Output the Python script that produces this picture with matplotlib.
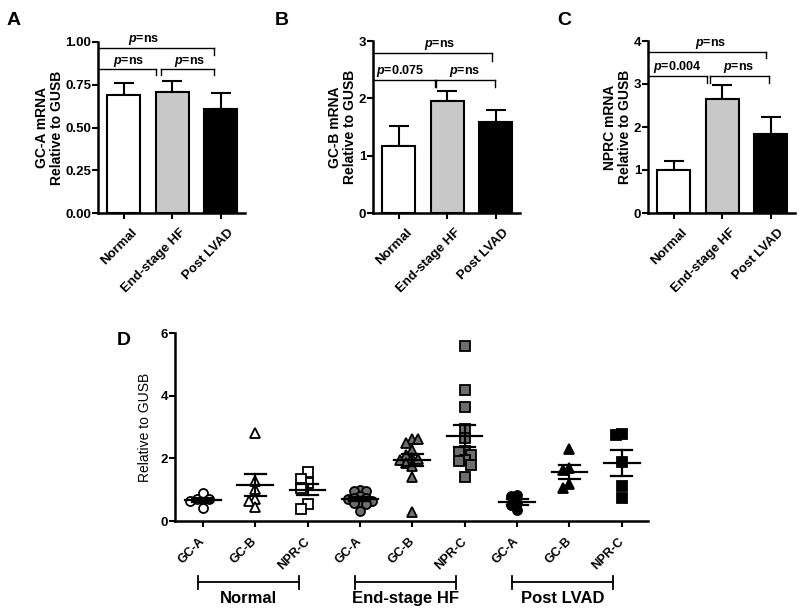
import matplotlib
matplotlib.use("Agg")
import matplotlib.pyplot as plt
import matplotlib.transforms as mtransforms
import numpy as np

plt.rcParams['font.family'] = ['Liberation Sans', 'DejaVu Sans']
plt.rcParams['font.weight'] = 'bold'
plt.rcParams['mathtext.fontset'] = 'custom'
plt.rcParams['mathtext.it'] = 'Liberation Sans:italic:bold'
plt.rcParams['mathtext.rm'] = 'Liberation Sans:bold'

# bar panels A-C
groups = ["Normal", "End-stage HF", "Post LVAD"]
gca_mean = [0.69, 0.71, 0.61]
gca_sem = [0.07, 0.06, 0.09]
gcb_mean = [1.16, 1.96, 1.59]
gcb_sem = [0.35, 0.17, 0.20]
nprc_mean = [1.01, 2.65, 1.84]
nprc_sem = [0.19, 0.33, 0.40]

# panel D, individual samples
normal_gca = [0.69, 0.69, 0.90, 0.69, 0.64, 0.40]
normal_gcb = [2.80, 1.28, 1.02, 0.70, 0.64, 0.46]
normal_nprc = [1.55, 1.20, 1.34, 1.04, 0.53, 0.37]
hf_gca = [1.00, 0.97, 0.96, 0.80, 0.75, 0.72, 0.70, 0.63, 0.60, 0.57, 0.54, 0.31]
hf_gcb = [2.61, 2.50, 2.61, 2.27, 2.11, 2.00, 1.97, 1.95, 1.86, 1.76, 1.41, 0.30]
hf_nprc = [5.60, 4.18, 3.65, 2.93, 2.66, 2.23, 2.21, 2.11, 1.95, 1.90, 1.79, 1.41]
lvad_gca = [0.83, 0.80, 0.56, 0.51, 0.35]
lvad_gcb = [2.29, 1.70, 1.63, 1.17, 1.04]
lvad_nprc = [2.77, 2.74, 1.87, 1.13, 0.74]
receptors = ["GC-A", "GC-B", "NPR-C"]

W, H = 800, 611
fig = plt.figure(figsize=(W / 100, H / 100), dpi=100)


def px_axes(x0, y_top, x1, y_bot):
    return fig.add_axes([x0 / W, 1 - y_bot / H, (x1 - x0) / W, (y_bot - y_top) / H])


def style_axes(ax, size):
    ax.spines['top'].set_visible(False)
    ax.spines['right'].set_visible(False)
    ax.spines['left'].set_linewidth(1.8)
    ax.spines['bottom'].set_linewidth(1.8)
    ax.tick_params(width=1.5, length=4, labelsize=size)
    ax.tick_params(axis='y', pad=1)
    for lab in ax.get_yticklabels():
        lab.set_fontweight('bold')


def shift_xlabels(ax, dx, dy):
    off = mtransforms.ScaledTranslation(dx / 100, dy / 100, fig.dpi_scale_trans)
    for lab in ax.get_xticklabels():
        lab.set_transform(lab.get_transform() + off)


def bracket(ax, x1, x2, y, drop, label, tx):
    xl = ax.get_xlim()[0]
    xs = [x1, x2] if x1 > xl else [xl, x2]
    ax.plot(xs, [y, y], color='black', lw=1, clip_on=False)
    ax.plot([x2, x2], [y, y - drop], color='black', lw=1, clip_on=False)
    if x1 > xl:
        ax.plot([x1, x1], [y, y - drop], color='black', lw=1, clip_on=False)
    ax.annotate(label, (tx, y), xytext=(0, 0.5), textcoords='offset points',
                ha='center', va='bottom', fontsize=9)


def bar_panel(ax, means, sems, ylim, yticks, ylabel, fmt, brackets):
    x = np.arange(len(groups))
    ax.bar(x, means, width=0.68, color=['white', '#c8c8c8', 'black'],
           edgecolor='black', linewidth=1.5, zorder=2)
    ax.errorbar(x, means, yerr=[np.zeros(len(sems)), sems], fmt='none',
                ecolor='black', elinewidth=1.5, capsize=7.5, capthick=1.5, zorder=1)
    ax.set_xlim(-0.53, 2.5)
    ax.set_ylim(*ylim)
    ax.set_yticks(yticks)
    ax.set_yticklabels([fmt.format(v) for v in yticks])
    ax.set_xticks(x)
    ax.set_xticklabels(groups, rotation=45, ha='right', va='top',
                       rotation_mode='anchor', fontweight='bold', fontsize=9.5)
    ax.set_ylabel(ylabel, fontsize=10, fontweight='bold', labelpad=1,
                  linespacing=1.1)
    style_axes(ax, 9.5)
    shift_xlabels(ax, 7, -3)
    for b in brackets:
        bracket(ax, *b)


axA = px_axes(98, 42, 245, 213)
bar_panel(axA, gca_mean, gca_sem, (0, 1.0), [0, 0.25, 0.5, 0.75, 1.0],
          "GC-A mRNA\nRelative to GUSB", "{:.2f}",
          [(-1, 1.86, 0.965, 0.04, "$p$=ns", 0.42),
           (-1, 0.66, 0.84, 0.035, "$p$=ns", 0.1),
           (0.76, 1.86, 0.84, 0.035, "$p$=ns", 1.36)])

axB = px_axes(373, 41, 520, 213)
bar_panel(axB, gcb_mean, gcb_sem, (0, 3), [0, 1, 2, 3],
          "GC-B mRNA\nRelative to GUSB", "{:d}",
          [(-1, 1.92, 2.79, 0.14, "$p$=ns", 0.84),
           (-1, 0.74, 2.32, 0.12, "$p$=0.075", 0.02),
           (0.77, 1.98, 2.32, 0.12, "$p$=ns", 1.36)])

axC = px_axes(648, 41, 795, 213)
bar_panel(axC, nprc_mean, nprc_sem, (0, 4), [0, 1, 2, 3, 4],
          "NPRC mRNA\nRelative to GUSB", "{:d}",
          [(-1, 1.9, 3.75, 0.15, "$p$=ns", 0.76),
           (-1, 0.68, 3.19, 0.17, "$p$=0.004", 0.08),
           (0.74, 1.96, 3.19, 0.17, "$p$=ns", 1.33)])

# panel letters
for letter, lx, ly in [("A", 7, 12), ("B", 275, 12), ("C", 557, 12), ("D", 117, 332)]:
    fig.text(lx / W, 1 - ly / H, letter, fontsize=14, fontweight='bold',
             ha='left', va='top')

# panel D
axD = px_axes(175, 333, 648, 521)
axD.set_xlim(0.47, 9.5)
axD.set_ylim(0, 6)
axD.set_yticks([0, 2, 4, 6])
style_axes(axD, 9.5)

series = [normal_gca, normal_gcb, normal_nprc,
          hf_gca, hf_gcb, hf_nprc,
          lvad_gca, lvad_gcb, lvad_nprc]
markers = ['o', '^', 's'] * 3
faces = ['white'] * 3 + ['#6e6e6e'] * 3 + ['black'] * 3
msize = 6.5
diam = msize * 100 / 72


def swarm(xc, vals):
    # spread points sitting at nearly the same height side by side (pixel space)
    tr = axD.transData
    placed = []
    out = []
    step = diam * 0.68
    for v in vals:
        px, py = tr.transform((xc, v))
        k = 0
        while True:
            cands = [0] if k == 0 else [-k, k]
            hit = None
            for c in cands:
                cx = px + c * step
                if all(abs(cx - qx) >= step * 0.99 or abs(py - qy) >= diam * 0.62
                       for qx, qy in placed):
                    hit = cx
                    break
            if hit is not None:
                placed.append((hit, py))
                out.append(tr.inverted().transform((hit, py))[0])
                break
            k += 1
    return out


for i, vals in enumerate(series):
    xc = i + 1
    xs = swarm(xc, vals)
    axD.plot(xs, vals, linestyle='none', marker=markers[i], markersize=msize,
             markerfacecolor=faces[i], markeredgecolor='black', markeredgewidth=1.3,
             zorder=2, clip_on=False)
    m = np.mean(vals)
    s = np.std(vals, ddof=1) / np.sqrt(len(vals))
    axD.plot([xc - 0.34, xc + 0.34], [m, m], color='black', lw=1.6, zorder=3)
    axD.plot([xc - 0.2, xc + 0.2], [m + s, m + s], color='black', lw=1.6, zorder=3)
    axD.plot([xc - 0.2, xc + 0.2], [m - s, m - s], color='black', lw=1.6, zorder=3)
    axD.plot([xc, xc], [m - s, m + s], color='black', lw=1.6, zorder=3)

axD.set_xticks(np.arange(1, 10))
axD.set_xticklabels(receptors * 3, rotation=45, ha='right', va='top',
                    rotation_mode='anchor', fontweight='bold', fontsize=9)
shift_xlabels(axD, -4, -4)
axD.set_ylabel("Relative to GUSB", fontsize=10, fontweight='normal', labelpad=6)

blend = mtransforms.blended_transform_factory(axD.transData, axD.transAxes)
for g, name in enumerate(groups):
    x1 = 3 * g + 1 - 0.1
    x2 = 3 * g + 3 - 0.17
    axD.plot([x1, x2], [-0.325, -0.325], color='black', lw=1.3, transform=blend, clip_on=False)
    for xe in (x1, x2):
        axD.plot([xe, xe], [-0.29, -0.36], color='black', lw=1.3, transform=blend, clip_on=False)
    axD.text((x1 + x2) / 2, -0.37, name, transform=blend, ha='center', va='top',
             fontsize=12, fontweight='bold')

fig.savefig("out.png", dpi=100)
